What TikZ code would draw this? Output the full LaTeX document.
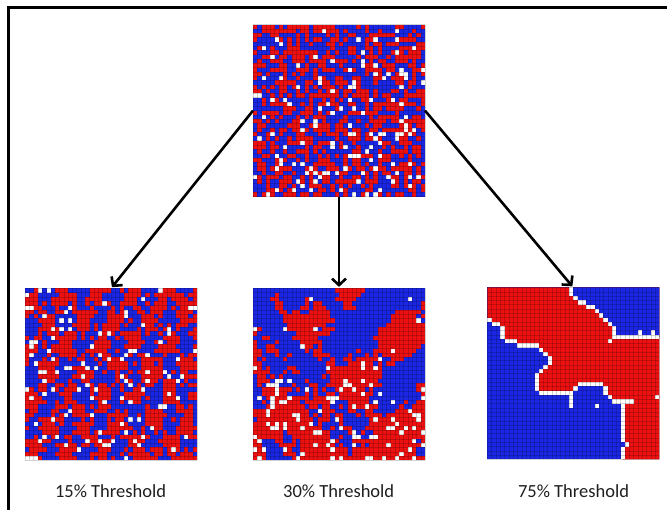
\documentclass[tikz,border=0pt]{standalone}
\usepackage{fontspec}
\setmainfont{Carlito}
\usetikzlibrary{arrows.meta,positioning}

\definecolor{cellred}{RGB}{236,16,16}
\definecolor{cellblue}{RGB}{26,38,226}
\definecolor{labelgray}{RGB}{30,30,30}

% one 40x40 board: #1 field (red if > 0), #2 / #3 chance of an empty cell on red / blue
\newcommand{\fillcells}[3]{%
  \foreach \cx in {0,...,39}{%
    \foreach \cy in {0,...,39}{%
      \pgfmathsetmacro\g{#1}%
      \pgfmathtruncatemacro\k{\g>0 ? (rnd<#2 ? 2 : 0) : (rnd<#3 ? 2 : 1)}%
      \ifcase\k\relax\def\cellcol{cellred}\or\def\cellcol{cellblue}\else\def\cellcol{white}\fi
      \fill[\cellcol] (\cx,\cy) rectangle ++(1,1);
    }%
  }%
}
\newcommand{\celllines}{%
  \foreach \i in {0,...,40}{%
    \draw[gridline] (\i,0) -- (\i,40);
    \draw[gridline] (0,\i) -- (40,\i);
  }%
}
% borders of the two regions on the 75% board
\newcommand{\lowerpath}{0/7,1/8,2/8,3/9,3/10,3/11,4/12,5/12,6/12,7/13,8/13,9/13,10/13,11/13,12/14,13/15,14/16,14/17,13/18,12/19,11/20,11/21,11/22,11/23,12/24,13/24,14/24,15/24,16/24,17/24,18/24,19/24,20/23,21/22,22/22,23/22,24/22,25/22,26/22,27/23,27/24,28/25,29/26,30/26,31/26,31/27,31/28,31/29,31/30,31/31,31/32,31/33,31/34,31/35,32/36,31/37,31/38,31/39}
\newcommand{\upperpath}{19/0,19/1,20/2,21/3,22/3,23/4,24/4,25/5,26/6,27/7,28/8,29/9,29/10,29/11,30/11,31/11,32/11,33/11,34/11,35/11,36/11,37/11,38/11,39/11}
\newcommand{\strayempty}{35/10,38/10,28/12,19/25,19/26,19/27,25/27,39/25,32/26,33/26}

\begin{document}
\begin{tikzpicture}[x=1pt,y=-1pt,
    gridbox/.style={minimum size=172pt,inner sep=0pt,outer sep=0pt},
    flow/.style={line width=2.6pt,-{Straight Barb[length=6.5pt,width=14pt]},shorten >=1.5pt},
    caption/.style={font=\fontsize{18.5}{22}\selectfont,text=labelgray,anchor=base},
    gridline/.style={black,opacity=0.18,line width=0.4pt}]
  \useasboundingbox (0,0) rectangle (667,510);
  % frame
  \draw[line width=2.6pt] (8.5,510) -- (8.5,7.5) -- (667,7.5);
  % the four boards
  \node[gridbox] (init) at (339,110.6) {};
  \node[gridbox] (low) at (111,374.4) {};
  \node[gridbox] (mid) at (339,374.4) {};
  \node[gridbox] (high) at (573.3,373.5) {};
  % initial configuration
  \begin{scope}[shift={(init.north west)},x=4.3pt,y=-4.3pt]
    \pgfmathsetseed{7}
    \fillcells{rnd-0.5}{0.07}{0.07}
    \celllines
  \end{scope}
  % 15% threshold
  \begin{scope}[shift={(low.north west)},x=4.3pt,y=-4.3pt]
    \pgfmathsetseed{23}
    \fillcells{0.5*sin(47*\cx+29*\cy)+0.5*sin(31*\cy-43*\cx+60)+0.9*(2*rnd-1)+0.05}{0.07}{0.06}
    \celllines
  \end{scope}
  % 30% threshold
  \begin{scope}[shift={(mid.north west)},x=4.3pt,y=-4.3pt]
    \pgfmathsetseed{41}
    \fillcells{sin(18*\cx+10)*cos(14*\cy+30)+0.7*sin(13*\cx+17*\cy+200)+0.4*sin(41*\cx-35*\cy)+0.03*(\cy-18)+0.5*(2*rnd-1)}{(\cy>20 ? 0.18 : 0.05)}{0.02}
    \celllines
  \end{scope}
  % 75% threshold
  \begin{scope}[shift={(high.north west)},x=4.3pt,y=-4.3pt]
    \fill[cellblue] (0,0) rectangle (40,40);
    \fill[cellred] (0,7.5) \foreach \x/\y in \lowerpath {-- (\x+0.5,\y+0.5)}
      -- (31.5,40) -- (40,40) -- (40,0) -- (0,0) -- cycle;
    \fill[cellblue] (19.5,0) \foreach \x/\y in \upperpath {-- (\x+0.5,\y+0.5)}
      -- (40,11.5) -- (40,0) -- cycle;
    \foreach \x/\y in \lowerpath {\fill[white] (\x,\y) rectangle ++(1,1);}
    \foreach \x/\y in \upperpath {\fill[white] (\x,\y) rectangle ++(1,1);}
    \foreach \x/\y in \strayempty {\fill[white] (\x,\y) rectangle ++(1,1);}
    \celllines
  \end{scope}
  % arrows
  \draw[flow] (init.west) -- (low.north);
  \draw[flow] (init.south) -- (mid.north);
  \draw[flow] (init.east) -- (high.north);
  % captions
  \node[caption] (lowcap) at (110.5,497) {15\% Threshold};
  \node[caption] (midcap) at (338.7,497) {30\% Threshold};
  \node[caption] (highcap) at (573.5,497) {75\% Threshold};
\end{tikzpicture}
\end{document}
